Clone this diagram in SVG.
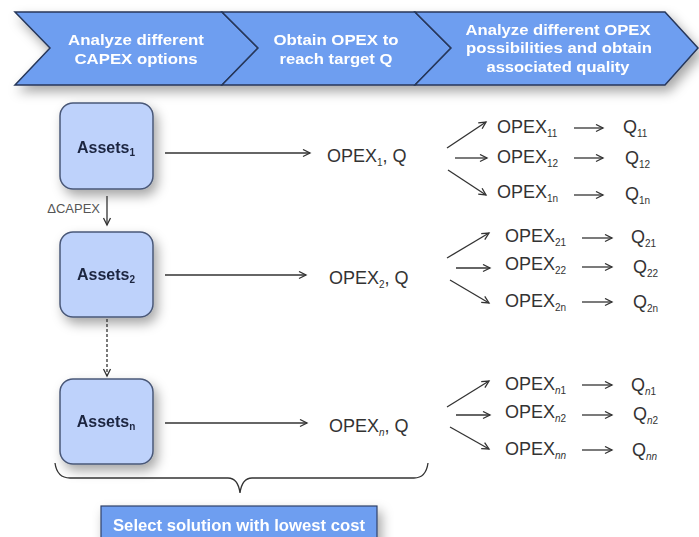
<svg xmlns="http://www.w3.org/2000/svg" width="699" height="537" viewBox="0 0 699 537">
<defs>
<filter id="sh" x="-20%" y="-20%" width="150%" height="160%">
<feDropShadow dx="4" dy="6" stdDeviation="6" flood-color="#000" flood-opacity="0.35"/>
</filter>
<marker id="ah" markerWidth="10" markerHeight="10" refX="8" refY="4.5" orient="auto" markerUnits="userSpaceOnUse">
<path d="M1,1 L8,4.5 L1,8" fill="none" stroke="#333" stroke-width="1.3"/>
</marker>
</defs>
<style>
.chev{fill:#6e9ef0;stroke:#27375a;stroke-width:1.5;stroke-linejoin:miter}
.ct{font-family:"Liberation Sans",Arial,sans-serif;font-weight:bold;font-size:14px;fill:#fff;text-anchor:middle}
.box{fill:#bed2fb;stroke:#4a5878;stroke-width:1.5}
.bt{font-family:"Liberation Sans",Arial,sans-serif;font-weight:bold;font-size:16px;fill:#1c2540;text-anchor:middle}
.sub{font-size:10px}
.ln{stroke:#333;stroke-width:1.3;fill:none}
.t{font-family:"Liberation Sans",Arial,sans-serif;font-size:18px;fill:#333}
.lbl{font-family:"Liberation Sans",Arial,sans-serif;font-size:13px;fill:#555;text-anchor:end}
</style>
<rect width="699" height="537" fill="#fff"/>

<g id="chevrons" filter="url(#sh)">
<g id="step1">
<polygon class="chev" points="15,12 222,12 258,48 222,85 15,85 50,48"/>
<text class="ct" x="136" y="45" textLength="136" lengthAdjust="spacingAndGlyphs">Analyze different</text>
<text class="ct" x="136" y="64" textLength="123" lengthAdjust="spacingAndGlyphs">CAPEX options</text>
</g>
<g id="step2">
<polygon class="chev" points="222,12 415,12 451,48 415,85 222,85 258,48"/>
<text class="ct" x="336" y="45" textLength="125" lengthAdjust="spacingAndGlyphs">Obtain OPEX to</text>
<text class="ct" x="336" y="64" textLength="113" lengthAdjust="spacingAndGlyphs">reach target Q</text>
</g>
<g id="step3">
<polygon class="chev" points="415,12 665,12 698,48 665,85 415,85 451,48"/>
<text class="ct" x="558" y="35" textLength="185" lengthAdjust="spacingAndGlyphs">Analyze different OPEX</text>
<text class="ct" x="559" y="53" textLength="186" lengthAdjust="spacingAndGlyphs">possibilities and obtain</text>
<text class="ct" x="558" y="72" textLength="143" lengthAdjust="spacingAndGlyphs">associated quality</text>
</g>
</g>

<g id="assets1" filter="url(#sh)">
<rect class="box" x="60" y="103" width="93" height="86" rx="13"/>
<text class="bt" x="106" y="153">Assets<tspan class="sub" dy="3">1</tspan></text>
</g>
<g id="assets2" filter="url(#sh)">
<rect class="box" x="60" y="232" width="93" height="85" rx="13"/>
<text class="bt" x="106" y="280">Assets<tspan class="sub" dy="3">2</tspan></text>
</g>
<g id="assetsn" filter="url(#sh)">
<rect class="box" x="60" y="379" width="93" height="85" rx="13"/>
<text class="bt" x="106" y="427">Assets<tspan class="sub" dy="3">n</tspan></text>
</g>

<g id="bottom" filter="url(#sh)">
<rect x="101" y="506" width="276" height="40" fill="#6e9ef0" stroke="#2f4068" stroke-width="1.2"/>
<text class="ct" x="239" y="531" style="font-size:16px" textLength="252" lengthAdjust="spacingAndGlyphs">Select solution with lowest cost</text>
</g>

<g id="connectors">
<line class="ln" x1="107" y1="196" x2="107" y2="225" marker-end="url(#ah)"/>
<line class="ln" x1="107" y1="319" x2="107" y2="376" stroke-dasharray="3,2" marker-end="url(#ah)"/>
<line class="ln" x1="165" y1="153" x2="310" y2="153" marker-end="url(#ah)"/>
<line class="ln" x1="165" y1="275" x2="306" y2="275" marker-end="url(#ah)"/>
<line class="ln" x1="165" y1="423" x2="307" y2="423" marker-end="url(#ah)"/>
<path class="ln" d="M55,463 Q57,478 70,478 L228,478 Q238,478 240,493 Q242,478 252,478 L414,478 Q426,478 428,463"/>
<line class="ln" x1="447" y1="148" x2="486" y2="122" marker-end="url(#ah)"/>
<line class="ln" x1="455" y1="158" x2="487" y2="158" marker-end="url(#ah)"/>
<line class="ln" x1="448" y1="170" x2="486" y2="195" marker-end="url(#ah)"/>
<line class="ln" x1="447" y1="258" x2="489" y2="233" marker-end="url(#ah)"/>
<line class="ln" x1="456" y1="268" x2="490" y2="268" marker-end="url(#ah)"/>
<line class="ln" x1="450" y1="280" x2="489" y2="303" marker-end="url(#ah)"/>
<line class="ln" x1="447" y1="407" x2="489" y2="381" marker-end="url(#ah)"/>
<line class="ln" x1="456" y1="415" x2="490" y2="415" marker-end="url(#ah)"/>
<line class="ln" x1="450" y1="427" x2="489" y2="449" marker-end="url(#ah)"/>
<line class="ln" x1="574" y1="128" x2="603" y2="128" marker-end="url(#ah)"/>
<line class="ln" x1="574" y1="158" x2="603" y2="158" marker-end="url(#ah)"/>
<line class="ln" x1="574" y1="195" x2="603" y2="195" marker-end="url(#ah)"/>
<line class="ln" x1="582" y1="238" x2="612" y2="238" marker-end="url(#ah)"/>
<line class="ln" x1="582" y1="267" x2="612" y2="267" marker-end="url(#ah)"/>
<line class="ln" x1="582" y1="302" x2="612" y2="302" marker-end="url(#ah)"/>
<line class="ln" x1="582" y1="385" x2="612" y2="385" marker-end="url(#ah)"/>
<line class="ln" x1="582" y1="415" x2="612" y2="415" marker-end="url(#ah)"/>
<line class="ln" x1="582" y1="450" x2="612" y2="450" marker-end="url(#ah)"/>
</g>

<g id="labels">
<text class="lbl" x="100" y="213">ΔCAPEX</text>
<text class="t" x="327" y="162">OPEX<tspan class="sub" dy="4">1</tspan><tspan dy="-4">, Q</tspan></text>
<text class="t" x="329" y="284">OPEX<tspan class="sub" dy="4">2</tspan><tspan dy="-4">, Q</tspan></text>
<text class="t" x="329" y="432">OPEX<tspan class="sub" dy="4" font-style="italic">n</tspan><tspan dy="-4">, Q</tspan></text>

<text class="t" x="497" y="133">OPEX<tspan class="sub" dy="4">11</tspan></text>
<text class="t" x="497" y="163">OPEX<tspan class="sub" dy="4">12</tspan></text>
<text class="t" x="497" y="198">OPEX<tspan class="sub" dy="4">1n</tspan></text>
<text class="t" x="623" y="133">Q<tspan class="sub" dy="4">11</tspan></text>
<text class="t" x="625" y="164">Q<tspan class="sub" dy="4">12</tspan></text>
<text class="t" x="625" y="200">Q<tspan class="sub" dy="4">1n</tspan></text>

<text class="t" x="505" y="242">OPEX<tspan class="sub" dy="4">21</tspan></text>
<text class="t" x="505" y="270">OPEX<tspan class="sub" dy="4">22</tspan></text>
<text class="t" x="505" y="307">OPEX<tspan class="sub" dy="4">2n</tspan></text>
<text class="t" x="631" y="243">Q<tspan class="sub" dy="4">21</tspan></text>
<text class="t" x="633" y="273">Q<tspan class="sub" dy="4">22</tspan></text>
<text class="t" x="633" y="308">Q<tspan class="sub" dy="4">2n</tspan></text>

<text class="t" x="505" y="390">OPEX<tspan class="sub" dy="4"><tspan font-style="italic">n</tspan>1</tspan></text>
<text class="t" x="505" y="418">OPEX<tspan class="sub" dy="4"><tspan font-style="italic">n</tspan>2</tspan></text>
<text class="t" x="505" y="455">OPEX<tspan class="sub" dy="4" font-style="italic">nn</tspan></text>
<text class="t" x="631" y="391">Q<tspan class="sub" dy="4"><tspan font-style="italic">n</tspan>1</tspan></text>
<text class="t" x="633" y="420">Q<tspan class="sub" dy="4"><tspan font-style="italic">n</tspan>2</tspan></text>
<text class="t" x="632" y="456">Q<tspan class="sub" dy="4" font-style="italic">nn</tspan></text>
</g>
</svg>
